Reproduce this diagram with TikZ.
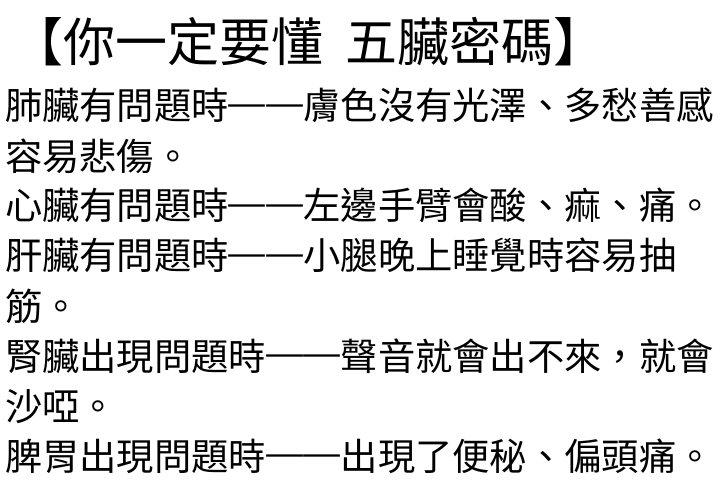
\documentclass[tikz,border=0pt]{standalone}
\usepackage{fontspec}
\newfontfamily\cjk{Noto Sans CJK TC}
\newcommand\cjkdash{\makebox[1em][c]{\raisebox{3.5bp}{\resizebox{1.1em}{\height}{—}}}}
\begin{document}
\begin{tikzpicture}[x=1bp,y=-1bp,
  body/.style={anchor=base west,inner sep=0pt,outer sep=0pt,text=black,
    font=\cjk\fontsize{37.3bp}{40bp}\selectfont},
  ttl/.style={anchor=base west,inner sep=0pt,outer sep=0pt,text=black,
    font=\cjk\fontsize{52bp}{56bp}\selectfont}]
\fill[white] (0,0) rectangle (720,486);
\useasboundingbox (0,0) rectangle (720,486);
\node[ttl] (title) at (11,61.5) {【你一定要懂\hspace{22bp}五臟密碼】};
\node[body] (l1) at (5,120) {肺臟有問題時\cjkdash\cjkdash 膚色沒有光澤、多愁善感};
\node[body] (l2) at (5,171) {容易悲傷。};
\node[body] (l3) at (5,220) {心臟有問題時\cjkdash\cjkdash 左邊手臂會酸、痲、痛。};
\node[body] (l4) at (5,270) {肝臟有問題時\cjkdash\cjkdash 小腿晚上睡覺時容易抽};
\node[body] (l5) at (5,320) {筋。};
\node[body] (l6) at (5,370) {腎臟出現問題時\cjkdash\cjkdash 聲音就會出不來，就會};
\node[body] (l7) at (5,420) {沙啞。};
\node[body] (l8) at (5,470) {脾胃出現問題時\cjkdash\cjkdash 出現了便秘、偏頭痛。};
\end{tikzpicture}
\end{document}
